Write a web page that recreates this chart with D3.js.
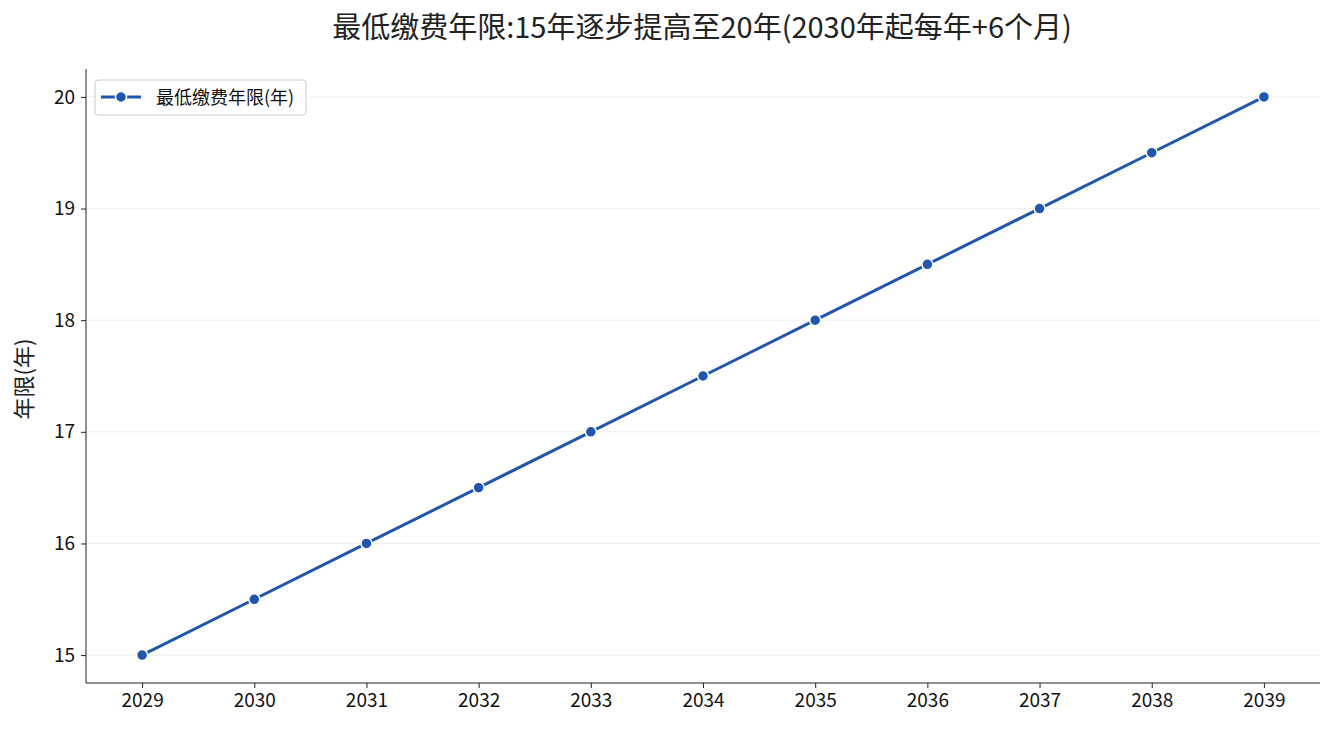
<!DOCTYPE html>
<html><head><meta charset="utf-8">
<script src="https://cdn.jsdelivr.net/npm/d3@7"></script>
<style>body{margin:0;background:#fff}text{font-family:"Noto Sans CJK SC","Noto Sans",sans-serif}</style>
</head><body><svg id="c" width="1335" height="735"></svg>
<script>
const years=[2029,2030,2031,2032,2033,2034,2035,2036,2037,2038,2039];
const values=[15,15.5,16,16.5,17,17.5,18,18.5,19,19.5,20];
const yTicks=[15,16,17,18,19,20];
const title="最低缴费年限:15年逐步提高至20年(2030年起每年+6个月)";
const seriesName="最低缴费年限(年)";
const yLabel="年限(年)";
const color="#1f57b0";
const svg=d3.select("#c");
const L=86,R=1320,T=69,B=683;
const x=d3.scaleLinear().domain([2028.5,2039.5]).range([L,R]);
const y=d3.scaleLinear().domain([14.75,20.25]).range([B,T]);
svg.append("g").selectAll("line").data(yTicks).join("line")
 .attr("x1",L).attr("x2",R).attr("y1",d=>y(d)).attr("y2",d=>y(d)).attr("stroke","#ebebeb").attr("stroke-width",0.8);
const ax=svg.append("g").attr("transform",`translate(0,${B})`).call(d3.axisBottom(x).tickValues(years).tickFormat(d3.format("d")).tickSize(5).tickPadding(6));
const ay=svg.append("g").attr("transform",`translate(${L},0)`).call(d3.axisLeft(y).tickValues(yTicks).tickFormat(d3.format("d")).tickSize(5).tickPadding(6));
[ax,ay].forEach(a=>{a.attr("font-size",null);a.selectAll("text").style("font-size","19px").attr("fill","#111");a.select(".domain").attr("stroke","#222");a.selectAll(".tick line").attr("stroke","#222");});
ax.select(".domain").attr("d",`M${L},0H${R}`);ay.select(".domain").attr("d",`M0,${B}V${T}`);
svg.append("path").datum(values).attr("fill","none").attr("stroke",color).attr("stroke-width",3)
 .attr("d",d3.line().x((d,i)=>x(years[i])).y(d=>y(d)));
svg.append("g").selectAll("circle").data(values).join("circle").attr("cx",(d,i)=>x(years[i])).attr("cy",d=>y(d)).attr("r",5.5).attr("fill",color).attr("stroke","#fff").attr("stroke-width",1.5);
svg.append("text").attr("x",702).attr("y",38).attr("text-anchor","middle").style("font-size","29px").attr("fill","#222").text(title);
svg.append("text").attr("transform","translate(32,379) rotate(-90)").attr("text-anchor","middle").style("font-size","22px").attr("fill","#222").text(yLabel);
const lg=svg.append("g");
lg.append("rect").attr("x",95).attr("y",80).attr("width",211).attr("height",35).attr("rx",3).attr("fill","#fff").attr("stroke","#ccc");
lg.append("line").attr("x1",101).attr("x2",141).attr("y1",97).attr("y2",97).attr("stroke",color).attr("stroke-width",3);
lg.append("circle").attr("cx",121).attr("cy",97).attr("r",5.5).attr("fill",color).attr("stroke","#fff").attr("stroke-width",1.5);
lg.append("text").attr("x",156).attr("y",104).style("font-size","18px").attr("fill","#111").text(seriesName);
</script></body></html>
